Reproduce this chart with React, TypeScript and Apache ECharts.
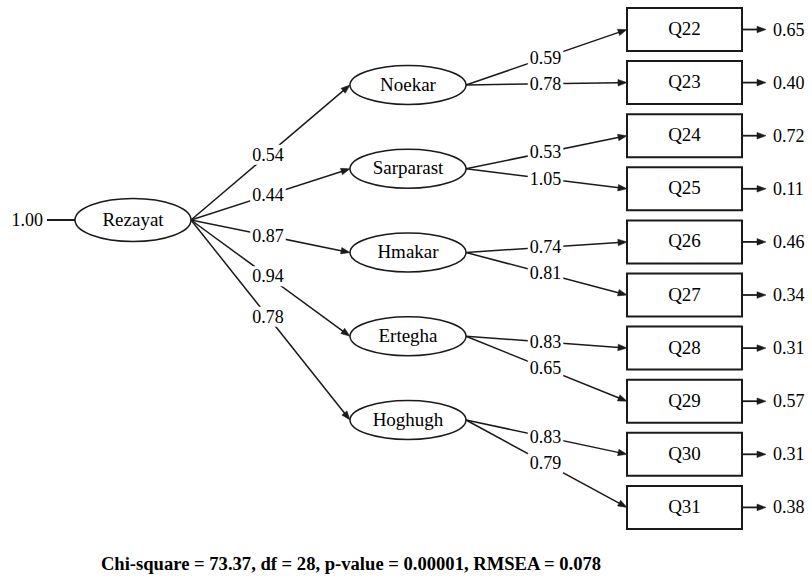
import React, { useEffect, useRef } from 'react';
import * as echarts from 'echarts';

// ---------- data ----------
const rootName = 'Rezayat';
const rootVariance = '1.00';
const latentNames = ['Noekar', 'Sarparast', 'Hmakar', 'Ertegha', 'Hoghugh'];
const latentLoadings = ['0.54', '0.44', '0.87', '0.94', '0.78'];
const itemNames = ['Q22', 'Q23', 'Q24', 'Q25', 'Q26', 'Q27', 'Q28', 'Q29', 'Q30', 'Q31'];
const itemParents = [0, 0, 1, 1, 2, 2, 3, 3, 4, 4];
const itemLoadings = ['0.59', '0.78', '0.53', '1.05', '0.74', '0.81', '0.83', '0.65', '0.83', '0.79'];
const errorVariances = ['0.65', '0.40', '0.72', '0.11', '0.46', '0.34', '0.31', '0.57', '0.31', '0.38'];
const fitChiSquare = '73.37';
const fitDf = '28';
const fitPValue = '0.00001';
const fitRmsea = '0.078';

// ---------- layout (positions / sizes) ----------
const ROOT = { cx: 133, cy: 220, rx: 58, ry: 21.5 };
const LAT = { cx: 408, cy0: 85, dy: 83.75, rx: 58, ry: 19.5 };
const BOX = { x0: 627, w: 115, y0: 8, dy: 53.1, h: 43 };
const ERR = { len: 24, gap: 7 };
const ROOT_VAR = { x1: 47, gap: 4 };
const T_ROOT = 0.484;
const T_ITEM = 0.494;
const FAMILY = 'Liberation Serif';
const INK = '#1a1a1a';

const latY = (j: number) => LAT.cy0 + j * LAT.dy;
const boxCy = (i: number) => BOX.y0 + i * BOX.dy + BOX.h / 2;

type Edge = { d: number[]; label: string; mode: 'mid' | 'end' | 'start' };

function buildEdges(): Edge[] {
  const edges: Edge[] = [];
  edges.push({ d: [ROOT_VAR.x1, ROOT.cy, ROOT.cx - ROOT.rx, ROOT.cy, 0, 0, 2], label: rootVariance, mode: 'start' });
  latentNames.forEach((_, j) => {
    edges.push({
      d: [ROOT.cx + ROOT.rx, ROOT.cy, LAT.cx - LAT.rx, latY(j), T_ROOT, 1, 1.5],
      label: latentLoadings[j],
      mode: 'mid',
    });
  });
  itemNames.forEach((_, i) => {
    const j = itemParents[i];
    edges.push({
      d: [LAT.cx + LAT.rx, latY(j), BOX.x0, boxCy(i), T_ITEM, 1, 1.5],
      label: itemLoadings[i],
      mode: 'mid',
    });
    edges.push({
      d: [BOX.x0 + BOX.w, boxCy(i), BOX.x0 + BOX.w + ERR.len, boxCy(i), 1, 1, 1.8],
      label: errorVariances[i],
      mode: 'end',
    });
  });
  return edges;
}

type NodeDef = { d: number[]; label: string; kind: 'ellipse' | 'rect' };
function buildNodes(): NodeDef[] {
  const nodes: NodeDef[] = [];
  nodes.push({ d: [ROOT.cx, ROOT.cy, ROOT.rx, ROOT.ry], label: rootName, kind: 'ellipse' });
  latentNames.forEach((n, j) => nodes.push({ d: [LAT.cx, latY(j), LAT.rx, LAT.ry], label: n, kind: 'ellipse' }));
  itemNames.forEach((n, i) =>
    nodes.push({ d: [BOX.x0 + BOX.w / 2, boxCy(i), BOX.w / 2, BOX.h / 2], label: n, kind: 'rect' })
  );
  return nodes;
}

const txt = (size: number) => ({
  fontFamily: FAMILY,
  fontSize: size,
  fill: '#000',
});

export default function App() {
  const ref = useRef<HTMLDivElement>(null);
  useEffect(() => {
    if (!ref.current) return;
    const chart = echarts.init(ref.current, null, { renderer: 'svg' });
    const edges = buildEdges();
    const nodes = buildNodes();
    const footer = `Chi-square = ${fitChiSquare}, df = ${fitDf}, p-value = ${fitPValue}, RMSEA = ${fitRmsea}`;

    chart.setOption({
      animation: false,
      backgroundColor: '#fff',
      grid: { left: 0, right: 0, top: 0, bottom: 0 },
      xAxis: { type: 'value', min: 0, max: 812, show: false },
      yAxis: { type: 'value', min: 0, max: 584, inverse: true, show: false },
      graphic: [
        {
          type: 'text',
          x: 351,
          y: 563,
          style: {
            text: footer,
            fontFamily: FAMILY,
            fontSize: 18.6,
            fontWeight: 'bold',
            fill: '#000',
            align: 'center',
            verticalAlign: 'middle',
          },
        },
      ],
      series: [
        {
          type: 'custom',
          coordinateSystem: 'cartesian2d',
          clip: false,
          silent: true,
          data: edges.map((e) => e.d),
          renderItem: (params: any, api: any) => {
            const e = edges[params.dataIndex];
            const p1 = api.coord([api.value(0), api.value(1)]);
            const p2 = api.coord([api.value(2), api.value(3)]);
            const t = api.value(4);
            const arrow = api.value(5) === 1;
            const lw = api.value(6);
            const dx = p2[0] - p1[0];
            const dy = p2[1] - p1[1];
            const len = Math.hypot(dx, dy) || 1;
            const ux = dx / len;
            const uy = dy / len;
            const ah = 9;
            const aw = 3.3;
            const base = [p2[0] - ux * ah, p2[1] - uy * ah];
            const children: any[] = [
              {
                type: 'line',
                shape: { x1: p1[0], y1: p1[1], x2: arrow ? base[0] + ux : p2[0], y2: arrow ? base[1] + uy : p2[1] },
                style: { stroke: INK, lineWidth: lw },
              },
            ];
            if (arrow) {
              children.push({
                type: 'polygon',
                shape: {
                  points: [
                    [p2[0], p2[1]],
                    [base[0] - uy * aw, base[1] + ux * aw],
                    [base[0] + uy * aw, base[1] - ux * aw],
                  ],
                },
                style: { fill: INK, stroke: INK, lineWidth: 0.5 },
              });
            }
            if (e.mode === 'mid') {
              children.push({
                type: 'text',
                style: {
                  text: e.label,
                  x: p1[0] + dx * t,
                  y: p1[1] + dy * t,
                  align: 'center',
                  verticalAlign: 'middle',
                  ...txt(18),
                  backgroundColor: '#fff',
                  padding: [1, 2],
                },
              });
            } else if (e.mode === 'end') {
              children.push({
                type: 'text',
                style: {
                  text: e.label,
                  x: p2[0] + ERR.gap,
                  y: p2[1],
                  align: 'left',
                  verticalAlign: 'middle',
                  ...txt(18),
                },
              });
            } else {
              children.push({
                type: 'text',
                style: {
                  text: e.label,
                  x: p1[0] - ROOT_VAR.gap,
                  y: p1[1],
                  align: 'right',
                  verticalAlign: 'middle',
                  ...txt(18),
                },
              });
            }
            return { type: 'group', children };
          },
        },
        {
          type: 'custom',
          coordinateSystem: 'cartesian2d',
          clip: false,
          silent: true,
          data: nodes.map((n) => n.d),
          renderItem: (params: any, api: any) => {
            const n = nodes[params.dataIndex];
            const c = api.coord([api.value(0), api.value(1)]);
            const corner = api.coord([api.value(0) + api.value(2), api.value(1) + api.value(3)]);
            const hw = corner[0] - c[0];
            const hh = corner[1] - c[1];
            const shape =
              n.kind === 'ellipse'
                ? {
                    type: 'ellipse',
                    shape: { cx: c[0], cy: c[1], rx: hw, ry: hh },
                    style: { fill: '#fff', stroke: INK, lineWidth: 1.5 },
                  }
                : {
                    type: 'rect',
                    shape: { x: c[0] - hw, y: c[1] - hh, width: hw * 2, height: hh * 2 },
                    style: { fill: '#fff', stroke: INK, lineWidth: 2 },
                  };
            return {
              type: 'group',
              children: [
                shape,
                {
                  type: 'text',
                  style: {
                    text: n.label,
                    x: c[0],
                    y: c[1] - 1,
                    align: 'center',
                    verticalAlign: 'middle',
                    ...txt(19),
                  },
                },
              ],
            };
          },
        },
      ],
    });
    return () => chart.dispose();
  }, []);
  return (
    <div
      ref={ref}
      style={{ position: 'fixed', left: 0, top: 0, width: 812, height: 584, background: '#fff' }}
    />
  );
}
